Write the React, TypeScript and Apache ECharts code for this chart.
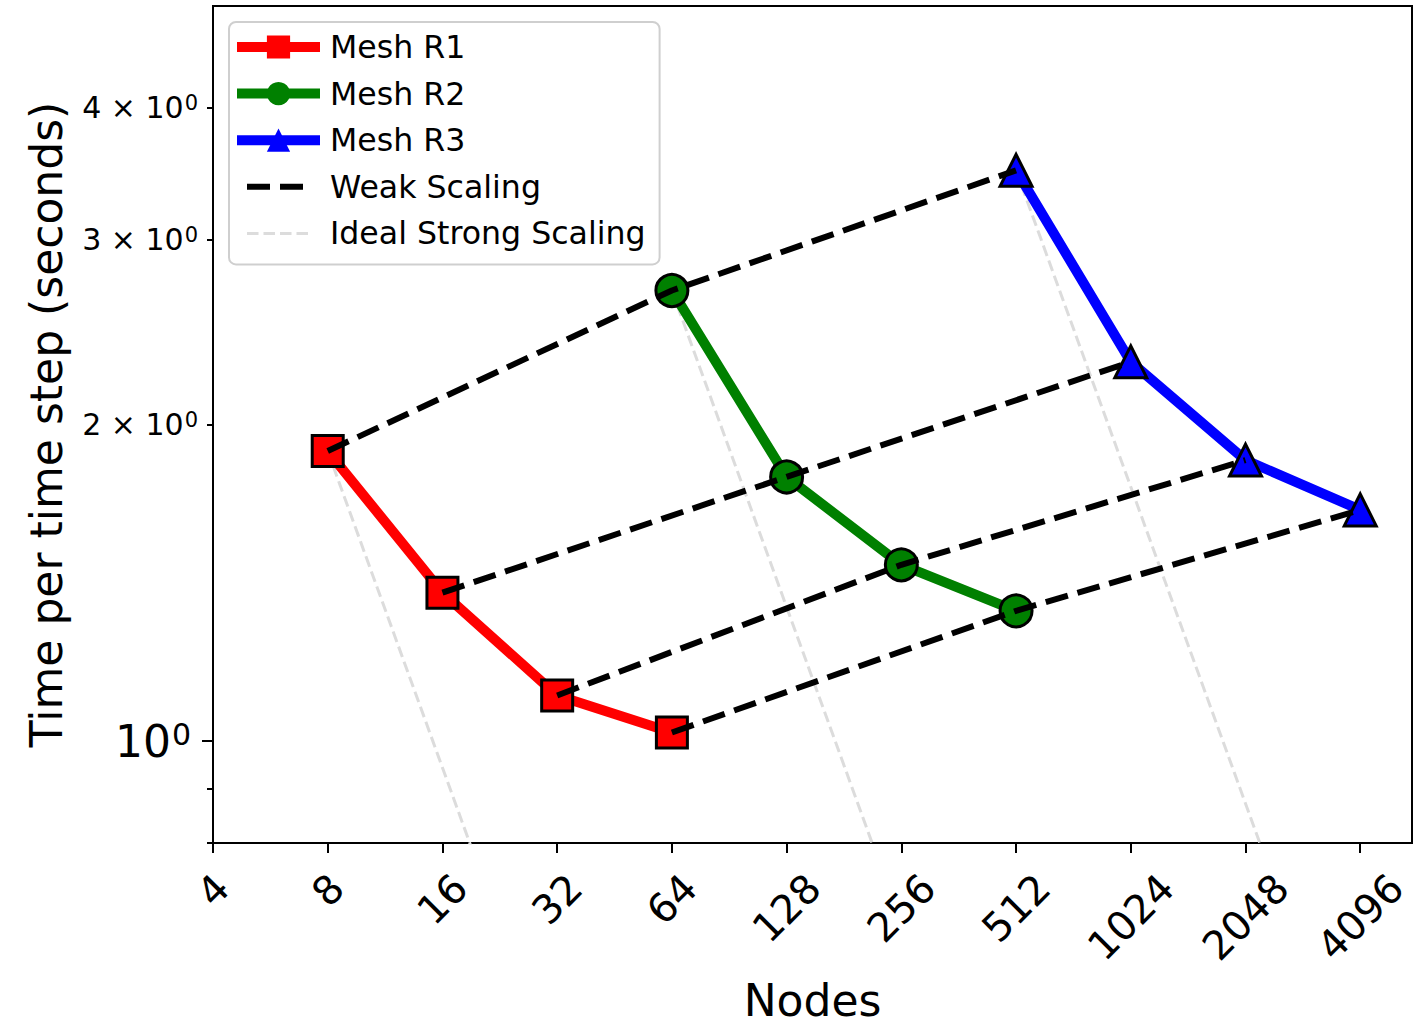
import React, { useEffect, useRef } from 'react';
import * as echarts from 'echarts';

const FONT = '"DejaVu Sans", "Noto Sans", sans-serif';

// ---- data ----
const NODES_R1 = [8, 16, 32, 64];
const TIME_R1 = [1.887, 1.384, 1.105, 1.019];
const NODES_R2 = [64, 128, 256, 512];
const TIME_R2 = [2.682, 1.783, 1.471, 1.33];
const NODES_R3 = [512, 1024, 2048, 4096];
const TIME_R3 = [3.489, 2.294, 1.85, 1.659];

const SERIES_NAMES = ['Mesh R1', 'Mesh R2', 'Mesh R3'];
const WEAK_NAME = 'Weak Scaling';
const IDEAL_NAME = 'Ideal Strong Scaling';

const X_TICKS = [4, 8, 16, 32, 64, 128, 256, 512, 1024, 2048, 4096];
const X_MIN = 4;
const X_MAX = 5600;
const Y_MIN = 0.8;
const Y_MAX = 5;
const Y_MINOR_TICKS = [0.8, 0.9, 2, 3, 4];
const Y_MINOR_LABELS = [2, 3, 4];
const Y_MAJOR_TICKS = [1];

// ideal strong scaling: time halves each time nodes double, drawn over 3 doublings
const IDEAL_SPAN = 8;

const lx = (n: number) => Math.log2(n);
const ly = (t: number) => Math.log10(t);
const pts = (nodes: number[], times: number[]) => nodes.map((n, i) => [lx(n), ly(times[i])]);

const MESHES = [
  { name: SERIES_NAMES[0], nodes: NODES_R1, times: TIME_R1, color: '#ff0000', symbol: 'rect', size: 31 },
  { name: SERIES_NAMES[1], nodes: NODES_R2, times: TIME_R2, color: '#008000', symbol: 'circle', size: 32 },
  { name: SERIES_NAMES[2], nodes: NODES_R3, times: TIME_R3, color: '#0000ff', symbol: 'triangle', size: 32 },
];

const X_LABEL_FONT = 40;
const DIGIT_W = 0.636 * X_LABEL_FONT;

function buildOption() {
  const series: any[] = [];

  // ideal strong scaling lines (lowest)
  MESHES.forEach((m) => {
    const n0 = m.nodes[0];
    const t0 = m.times[0];
    series.push({
      type: 'line',
      name: IDEAL_NAME,
      data: [
        [lx(n0), ly(t0)],
        [lx(n0 * IDEAL_SPAN), ly(t0 / IDEAL_SPAN)],
      ],
      symbol: 'none',
      z: 1,
      lineStyle: { color: '#dcdcdc', width: 3, type: [11, 5] },
      clip: true,
      silent: true,
    });
  });

  // mesh series
  MESHES.forEach((m) => {
    series.push({
      type: 'line',
      name: m.name,
      data: pts(m.nodes, m.times),
      symbol: m.symbol,
      symbolSize: m.size,
      z: 3,
      lineStyle: { color: m.color, width: 10, join: 'round', cap: 'square' },
      itemStyle: { color: m.color, borderColor: '#000', borderWidth: 3 },
      silent: true,
    });
  });

  // weak scaling lines (on top)
  NODES_R1.forEach((_, i) => {
    series.push({
      type: 'line',
      name: WEAK_NAME,
      data: [
        [lx(NODES_R1[i]), ly(TIME_R1[i])],
        [lx(NODES_R2[i]), ly(TIME_R2[i])],
        [lx(NODES_R3[i]), ly(TIME_R3[i])],
      ],
      symbol: 'none',
      z: 4,
      lineStyle: { color: '#000', width: 6, type: [23, 10] },
      silent: true,
    });
  });

  const xRich: any = {};
  [1, 2, 3, 4].forEach((n) => {
    const p = ((n - 1) * DIGIT_W) / 2;
    xRich['d' + n] = {
      fontSize: X_LABEL_FONT,
      fontFamily: FONT,
      color: '#000',
      padding: [p, p, 0, 0],
    };
  });

  const minorRich = {
    b: { fontSize: 30, fontFamily: FONT, color: '#000', verticalAlign: 'bottom', lineHeight: 30 },
    s: { fontSize: 21, fontFamily: FONT, color: '#000', verticalAlign: 'top', lineHeight: 21, padding: [0, 0, 12, 1] },
  };
  const majorRich = {
    b: { fontSize: 44, fontFamily: FONT, color: '#000', verticalAlign: 'bottom', lineHeight: 44 },
    s: { fontSize: 30, fontFamily: FONT, color: '#000', verticalAlign: 'top', lineHeight: 30, padding: [0, 0, 20, 1] },
  };

  const yCommon = {
    type: 'value',
    min: ly(Y_MIN),
    max: ly(Y_MAX),
    position: 'left',
    splitLine: { show: false },
  };

  return {
    animation: false,
    backgroundColor: '#ffffff',
    grid: {
      left: 213,
      top: 6,
      right: 13,
      bottom: 184,
      show: true,
      borderColor: '#000',
      borderWidth: 2,
      backgroundColor: 'transparent',
      containLabel: false,
      outerBoundsMode: 'none',
    },
    legend: {
      orient: 'vertical',
      left: 229,
      top: 22,
      itemWidth: 73,
      itemHeight: 29,
      itemGap: 14.6,
      padding: [9, 14, 15, 8],
      backgroundColor: 'rgba(255,255,255,0.85)',
      borderColor: '#cfcfcf',
      borderWidth: 2,
      borderRadius: 7,
      selectedMode: false,
      textStyle: { fontSize: 31.6, fontFamily: FONT, color: '#000', padding: [0, 0, 0, 10] },
      data: [
        { name: SERIES_NAMES[0], itemStyle: { borderWidth: 0 }, lineStyle: { width: 10 } },
        { name: SERIES_NAMES[1], itemStyle: { borderWidth: 0 }, lineStyle: { width: 10 } },
        { name: SERIES_NAMES[2], itemStyle: { borderWidth: 0 }, lineStyle: { width: 10 } },
        {
          name: WEAK_NAME,
          itemStyle: { opacity: 0 },
          lineStyle: { width: 6, type: [23, 10, 23, 100], dashOffset: 151 },
        },
        {
          name: IDEAL_NAME,
          itemStyle: { opacity: 0 },
          lineStyle: { width: 3, type: [11.5, 5, 11.5, 5, 11.5, 5, 11.5, 100], dashOffset: 156 },
        },
      ],
    },
    xAxis: {
      type: 'value',
      min: lx(X_MIN),
      max: lx(X_MAX),
      splitLine: { show: false },
      axisLine: { show: true, onZero: false, lineStyle: { color: '#000', width: 2 } },
      axisTick: {
        show: true,
        length: 10,
        lineStyle: { color: '#000', width: 2 },
        customValues: X_TICKS.map(lx),
      },
      axisLabel: {
        customValues: X_TICKS.map(lx),
        rotate: 45,
        align: 'center',
        verticalAlign: 'middle',
        margin: 47,
        fontSize: X_LABEL_FONT,
        fontFamily: FONT,
        color: '#000',
        showMinLabel: true,
        showMaxLabel: true,
        formatter: (v: number) => {
          const s = String(Math.round(Math.pow(2, v)));
          return '{d' + s.length + '|' + s + '}';
        },
        rich: xRich,
      },
      name: 'Nodes',
      nameLocation: 'middle',
      nameGap: 139,
      nameTextStyle: { fontSize: 44, fontFamily: FONT, color: '#000', lineHeight: 36 },
    },
    yAxis: [
      {
        ...yCommon,
        axisLine: { show: true, onZero: false, lineStyle: { color: '#000', width: 2 } },
        axisTick: {
          show: true,
          length: 6,
          lineStyle: { color: '#000', width: 2 },
          customValues: Y_MINOR_TICKS.map(ly),
        },
        axisLabel: {
          customValues: Y_MINOR_LABELS.map(ly),
          margin: 15,
          fontSize: 30,
          fontFamily: FONT,
          color: '#000',
          formatter: (v: number) => '{b|' + Math.round(Math.pow(10, v)) + ' \u00d7 10}{s|0}',
          rich: minorRich,
        },
        name: 'Time per time step (seconds)',
        nameLocation: 'middle',
        nameGap: 145,
        nameTextStyle: { fontSize: 44, fontFamily: FONT, color: '#000' },
      },
      {
        ...yCommon,
        axisLine: { show: false, onZero: false },
        axisTick: {
          show: true,
          length: 11,
          lineStyle: { color: '#000', width: 2 },
          customValues: Y_MAJOR_TICKS.map(ly),
        },
        axisLabel: {
          customValues: Y_MAJOR_TICKS.map(ly),
          margin: 22,
          fontSize: 44,
          fontFamily: FONT,
          color: '#000',
          formatter: () => '{b|10}{s|0}',
          rich: majorRich,
        },
      },
    ],
    series,
  };
}

export default function App() {
  const ref = useRef<HTMLDivElement | null>(null);
  useEffect(() => {
    if (!ref.current) return;
    const chart = echarts.init(ref.current, undefined, { renderer: 'svg' });
    chart.setOption(buildOption() as any);
    return () => chart.dispose();
  }, []);
  return (
    <div
      ref={ref}
      style={{ position: 'absolute', left: 0, top: 0, width: 1425, height: 1027, background: '#fff' }}
    />
  );
}
